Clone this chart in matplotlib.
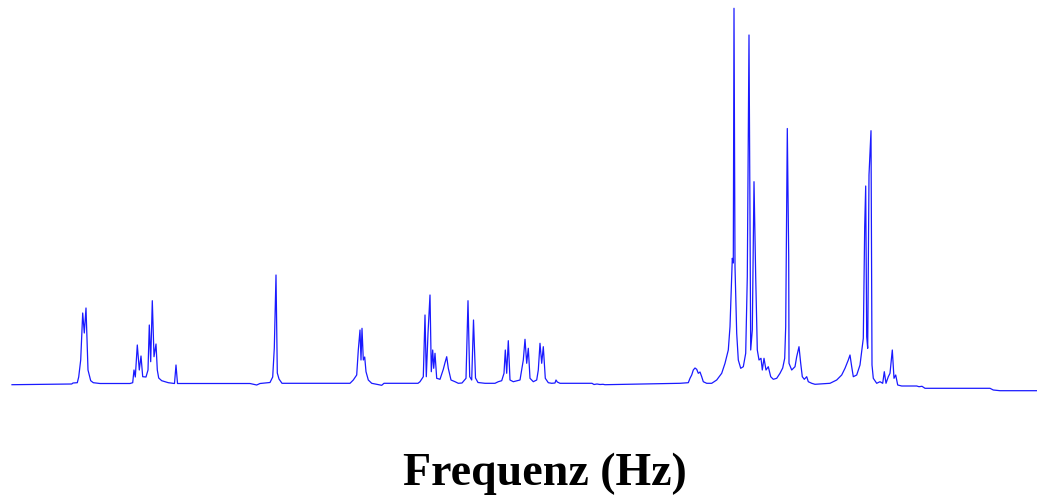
import numpy as np
import matplotlib.pyplot as plt

# --- Spektrum: Stützpunkte (Frequenz, Intensität) ---
freq = [
    12, 71.7, 73, 77.3, 78.7, 80.7, 82.7, 84.3, 86, 88, 90.7, 93.3, 100,
    130, 132.7, 134, 135.3, 137.3, 139.3, 141, 142.7, 146, 148, 149.3, 150.7,
    152.3, 154, 156, 157.3, 158.7, 161.7, 168.3, 174.5, 176, 177.5,
    250, 256.7, 260, 270, 272.7, 274.3, 276, 277.3, 279, 282,
    350, 353.3, 356.7, 358.3, 360, 361, 362, 363.3, 364.7, 366, 368.3, 371.7,
    381.7, 384,
    418, 420, 423.3, 425, 426.3, 428, 430, 431.3, 432.7, 433.7, 435, 436.7,
    440, 443.3, 445, 446.7, 448.3, 451, 455, 458.3, 462, 466, 468, 469.7,
    471.7, 473.5, 475.5, 478, 485,
    495, 498.3, 501.7, 504, 505.3, 506.7, 508.3, 510, 513.3, 520, 523.3, 525,
    526.7, 528.3, 530, 533.3, 536.7, 538.3, 540, 541.7, 543.3, 545.3, 548.3,
    551.7, 555, 556, 557.3, 560,
    592, 594, 597, 600, 603, 605,
    680, 688.3, 690, 691.7, 693.3, 695, 696.7, 698.3, 700, 701.7, 703.3,
    706.7, 711.7, 716.7, 721.7, 725, 728.3, 730, 732.3, 733.3, 734, 735,
    736.7, 738.3, 740.7, 743.3, 745.7, 747.3, 749, 750.7, 752.3, 754, 755.7,
    757.3, 759, 761, 762.3, 764, 766, 768.3, 770.7, 773.3, 776.7, 780,
    782.7, 784.7, 785.7, 787.3, 788.7, 789, 791.7, 795, 796.7, 799, 800.7,
    802.3, 804.3, 806.7, 808.3, 811.7, 815,
    830, 836.7, 841.7, 845, 848.3, 850, 851.7, 853.3, 856.7, 860, 862.3,
    863.3, 864.7, 865.7, 866.7, 867.7, 869, 871, 872, 873.3, 876.7, 880,
    882.7, 884.3, 886, 888.3, 890, 892.3, 894, 895.7, 897.7, 901.7,
    916.7, 919, 922, 925, 990, 993.3, 1000, 1037,
]
intensity = [
    -0.7, 0, 1, 1.3, 7, 24, 71, 51, 76, 14, 3.3, 1.3, 0.5,
    0.5, 1.3, 14, 7, 39, 14, 28, 7.3, 7, 14, 59, 22.3,
    83.3, 27.3, 40, 14, 6, 3.3, 1.3, 0.5, 19, 0.5,
    0.5, -1, 0.5, 1.5, 7, 36, 109, 11, 5, 0.7,
    0.7, 4, 9, 34, 54, 24, 55.7, 24, 27, 12.3, 4, 0.7,
    -1.3, 0.7,
    0.7, 2.3, 7.3, 69, 7.3, 50.7, 89, 12.3, 34, 15.7, 30.7, 5.7,
    4.7, 14.7, 21.3, 27.3, 15.7, 4, 2.3, 0.7, 1, 5.7, 83.3, 7.3,
    4, 64, 6, 1.5, 0.7,
    0.7, 2.3, 3.3, 10.7, 34, 10.7, 43.3, 4, 2.3, 4, 24, 44.7,
    20.7, 35.7, 5.7, 2.3, 4, 14, 40.7, 20.7, 37.3, 5.7, 1.3,
    0.7, 1, 4, 2, 0.7,
    0.7, -0.5, 0, -0.5, -0.3, -0.7,
    0.7, 1.3, 5.7, 9, 14, 16, 14.7, 10.7, 12, 7.3, 2.3,
    0.7, 0.7, 4, 10.7, 20.7, 34, 57.3, 125.7, 121, 375.7, 117.3,
    50.7, 24, 15.7, 17.3, 30.7, 107.3, 349, 34, 54, 202.3, 107.3,
    34, 24, 25.7, 14, 25.7, 14, 17.3, 7.3, 4.7, 5.7, 10.7,
    16, 25.7, 57.3, 255.5, 127.3, 20.7, 14, 17.3, 27.3, 37.3, 20.7,
    7.3, 4.7, 7.3, 2.3, 0.7, -0.3,
    0.7, 4, 9, 15.7, 24, 29, 17.3, 7.3, 9, 19, 37.3,
    45.7, 157.3, 198, 47.3, 35.7, 209, 253.3, 19, 5.7, 0.7, 2.3,
    0.7, 12.3, 0.7, 7.3, 10.7, 34, 5.7, 9, -1, -2,
    -2, -2.7, -2.3, -4.3, -4.3, -6, -6.7, -6.7,
]

fig = plt.figure(figsize=(10.37, 4.97), dpi=100)
ax = fig.add_axes([0, 97 / 497, 1, 400 / 497])
ax.plot(freq, intensity, color='#1a1aff', linewidth=0.9)
ax.set_xlim(0, 1037)
ax.set_ylim(-16, 384)
ax.axis('off')

fig.text(545 / 1037, 12 / 497, "Frequenz (Hz)", ha='center', va='baseline',
         fontsize=33, fontweight='bold', family='Liberation Serif')

fig.savefig("out.png", dpi=100)
